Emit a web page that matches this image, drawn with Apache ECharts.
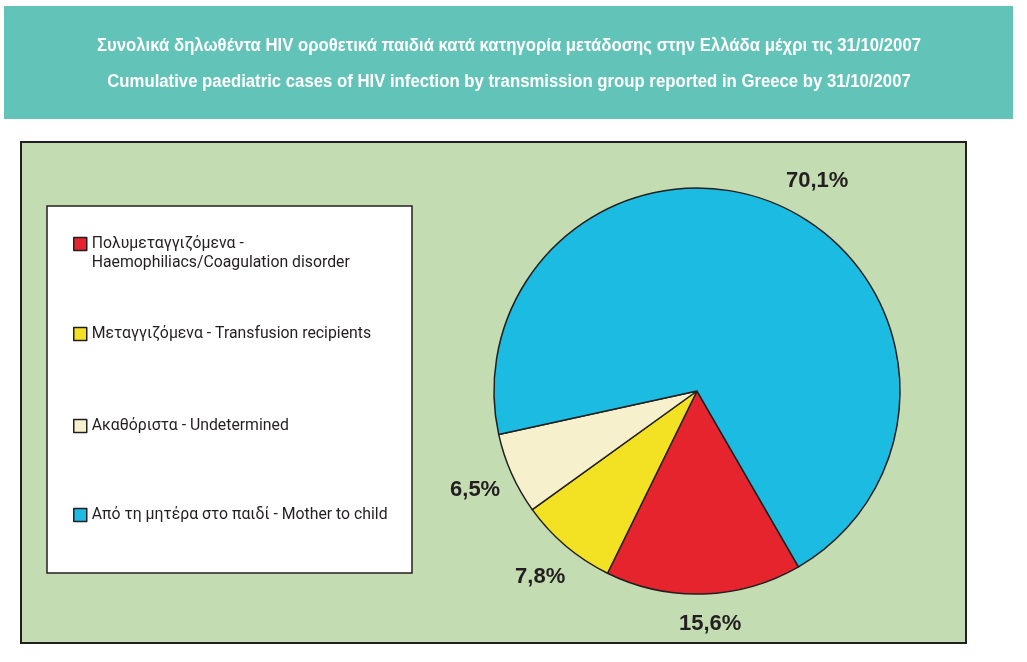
<!DOCTYPE html>
<html>
<head>
<meta charset="utf-8">
<script src="https://cdn.jsdelivr.net/npm/echarts@6/dist/echarts.min.js"></script>
<style>
  html, body { margin: 0; padding: 0; background: #ffffff; }
  #chart { width: 1027px; height: 662px; }
</style>
</head>
<body>
<div id="chart"></div>
<script>
// ---- data ----
const titleLines = [
  'Συνολικά δηλωθέντα HIV οροθετικά παιδιά κατά κατηγορία μετάδοσης στην Ελλάδα μέχρι τις 31/10/2007',
  'Cumulative paediatric cases of HIV infection by transmission group reported in Greece by 31/10/2007'
];
const categoriesGr = ['Πολυμεταγγιζόμενα', 'Μεταγγιζόμενα', 'Ακαθόριστα', 'Από τη μητέρα στο παιδί'];
const categoriesEn = ['Haemophiliacs/Coagulation disorder', 'Transfusion recipients', 'Undetermined', 'Mother to child'];
const percentages = [15.6, 7.8, 6.5, 70.1];
const sliceColors = ['#e5242d', '#f3e224', '#f6f1cc', '#1cbbe2'];

// ---- build ----
const names = categoriesGr.map((g, i) => g + ' - ' + categoriesEn[i]);
const ink = '#231f20';
const legendTops = [215.5, 324.5, 416.5, 505.5];

// condensed title font: horizontally scale a bold sans to the reference width
const titleFont = 'bold 18px "Liberation Sans"';
const measureCtx = document.createElement('canvas').getContext('2d');
measureCtx.font = titleFont;
const titleScaleX = 824 / measureCtx.measureText(titleLines[0]).width;

const legends = names.map((n, i) => ({
  data: [n],
  orient: 'vertical',
  left: 73,
  top: legendTops[i],
  padding: 0,
  itemWidth: 13,
  itemHeight: 13,
  icon: 'rect',
  selectedMode: false,
  itemStyle: { borderColor: ink, borderWidth: 1.5 },
  formatter: (name) => i === 0 ? '\n' + categoriesGr[0] + ' -\n' + categoriesEn[0] : name,
  textStyle: {
    color: ink,
    fontFamily: 'Roboto',
    fontSize: 15.8,
    lineHeight: 19
  }
}));

const pieData = names.map((n, i) => ({ name: n, value: percentages[i], itemStyle: { color: sliceColors[i] } }));
const labelOffsets = [[5, -10], [0, 0], [0, 0], [22, 12]];
const labelData = names.map((n, i) => ({
  name: n,
  value: percentages[i],
  label: { offset: labelOffsets[i] }
}));

const chart = echarts.init(document.getElementById('chart'), null, { renderer: 'canvas' });
chart.setOption({
  backgroundColor: '#ffffff',
  animation: false,
  graphic: [
    { type: 'rect', z: -10, shape: { x: 4, y: 6, width: 1009, height: 113 }, style: { fill: '#62c4b9' } },
    { type: 'rect', z: -10, shape: { x: 21, y: 142, width: 945, height: 501 }, style: { fill: '#c3dcb1', stroke: ink, lineWidth: 2 } },
    { type: 'rect', z: -9, shape: { x: 47, y: 206, width: 365, height: 367 }, style: { fill: '#ffffff', stroke: ink, lineWidth: 1.5 } },
    { type: 'text', z: 10, x: 509, y: 46, scaleX: titleScaleX,
      style: { text: titleLines[0], font: titleFont, fill: '#ffffff', textAlign: 'center', textVerticalAlign: 'middle' } },
    { type: 'text', z: 10, x: 509, y: 82, scaleX: titleScaleX,
      style: { text: titleLines[1], font: titleFont, fill: '#ffffff', textAlign: 'center', textVerticalAlign: 'middle' } }
  ],
  legend: legends,
  series: [
    {
      type: 'pie',
      center: [697, 391],
      radius: 203,
      startAngle: 300,
      clockwise: true,
      label: { show: false },
      labelLine: { show: false },
      emphasis: { scale: false },
      itemStyle: { borderColor: ink, borderWidth: 1.5 },
      data: pieData
    },
    {
      type: 'pie',
      center: [697, 391],
      radius: [200, 280],
      startAngle: 300,
      clockwise: true,
      silent: true,
      legendHoverLink: false,
      itemStyle: { color: 'transparent', borderWidth: 0 },
      emphasis: { scale: false },
      label: {
        show: true,
        position: 'inside',
        color: ink,
        fontFamily: 'Liberation Sans',
        fontWeight: 'bold',
        fontSize: 22,
        formatter: (p) => p.value.toFixed(1).replace('.', ',') + '%'
      },
      labelLine: { show: false },
      data: labelData
    }
  ]
});
</script>
</body>
</html>
